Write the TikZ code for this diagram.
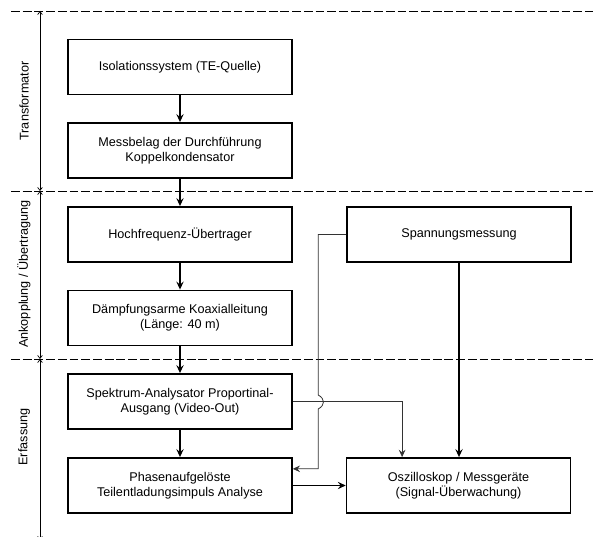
\documentclass[tikz,border=0pt]{standalone}
\usepackage{fontspec}
\setmainfont{Liberation Sans}
\usetikzlibrary{arrows.meta,positioning,calc}

\begin{document}
\begin{tikzpicture}[
  x=0.03cm, y=-0.03cm,
  font=\fontsize{10.8}{12.6}\selectfont,
  box/.style={draw, line width=1.3pt, align=center, inner sep=2pt,
              minimum width=6.72cm, minimum height=1.66cm},
  ar/.style={-{Stealth[length=2.4mm,width=2.2mm,inset=0.9mm]}, line width=1.3pt},
  tar/.style={-{Stealth[length=2.2mm,width=2mm,inset=0.8mm]}, line width=0.7pt, color=black!80},
  tln/.style={line width=0.7pt, color=black!80},
  sep/.style={line width=0.8pt, dash pattern=on 7.5pt off 2.5pt},
  dim/.style={{Straight Barb[length=0.9mm,width=1.4mm]}-{Straight Barb[length=0.9mm,width=1.4mm]}, line width=0.6pt},
  lbl/.style={rotate=90, anchor=center}
]
\useasboundingbox (0,0) rectangle (593,537);

% ebenen
\coordinate (e0) at (40,11);
\coordinate (e1) at (40,191);
\coordinate (e2) at (40,359);
\coordinate (e3) at (40,540);
\draw[sep] (11,11) -- (593,11);
\draw[sep] (11,191) -- (593,191);
\draw[sep] (11,359) -- (593,359);
\draw[dim] (e0) -- (e1);
\draw[dim] (e1) -- (e2);
\draw[dim] (e2) -- (e3);
\node[lbl] (ltra) at (24,101) {Transformator};
\node[lbl] (lank) at (24,274) {Ankopplung / Übertragung};
\node[lbl] (lerf) at (24,437) {Erfassung};

\node[box] (iso)   at (180,67)    {Isolationssystem (TE-Quelle)};
\node[box] (mess)  at (180,150.5) {Messbelag der Durchführung\\Koppelkondensator};
\node[box] (hf)    at (180,234.5) {Hochfrequenz-Übertrager};
\node[box] (koax)  at (180,318)   {Dämpfungsarme Koaxialleitung\\(Länge: 40 m)};
\node[box] (spek)  at (180,401.5) {Spektrum-Analysator Proportinal-\\Ausgang (Video-Out)};
\node[box] (phase) at (180,485.5) {Phasenaufgelöste\\Teilentladungsimpuls Analyse};
\node[box] (spann) at (459,234.5) {Spannungsmessung};
\node[box] (oszi)  at (458.5,485.5) {Oszilloskop / Messgeräte\\(Signal-Überwachung)};

\draw[ar] (iso) -- (mess);
\draw[ar] (mess) -- (hf);
\draw[ar] (hf) -- (koax);
\draw[ar] (koax) -- (spek);
\draw[ar] (spek) -- (phase);
\draw[ar] (phase) -- (oszi);
\draw[ar] (spann.south) -- (spann.south |- oszi.north);
\draw[tar] (spek.east) -| ($(oszi.north west)!0.25!(oszi.north east)$);
\draw[tar] (spann.west) -- ++(-28,0) coordinate (k1) -- (k1 |- 0,395)
  .. controls +(7,4) and +(7,-4) .. (k1 |- 0,409)
  |- ([yshift=0.5cm]phase.east);
\end{tikzpicture}
\end{document}
